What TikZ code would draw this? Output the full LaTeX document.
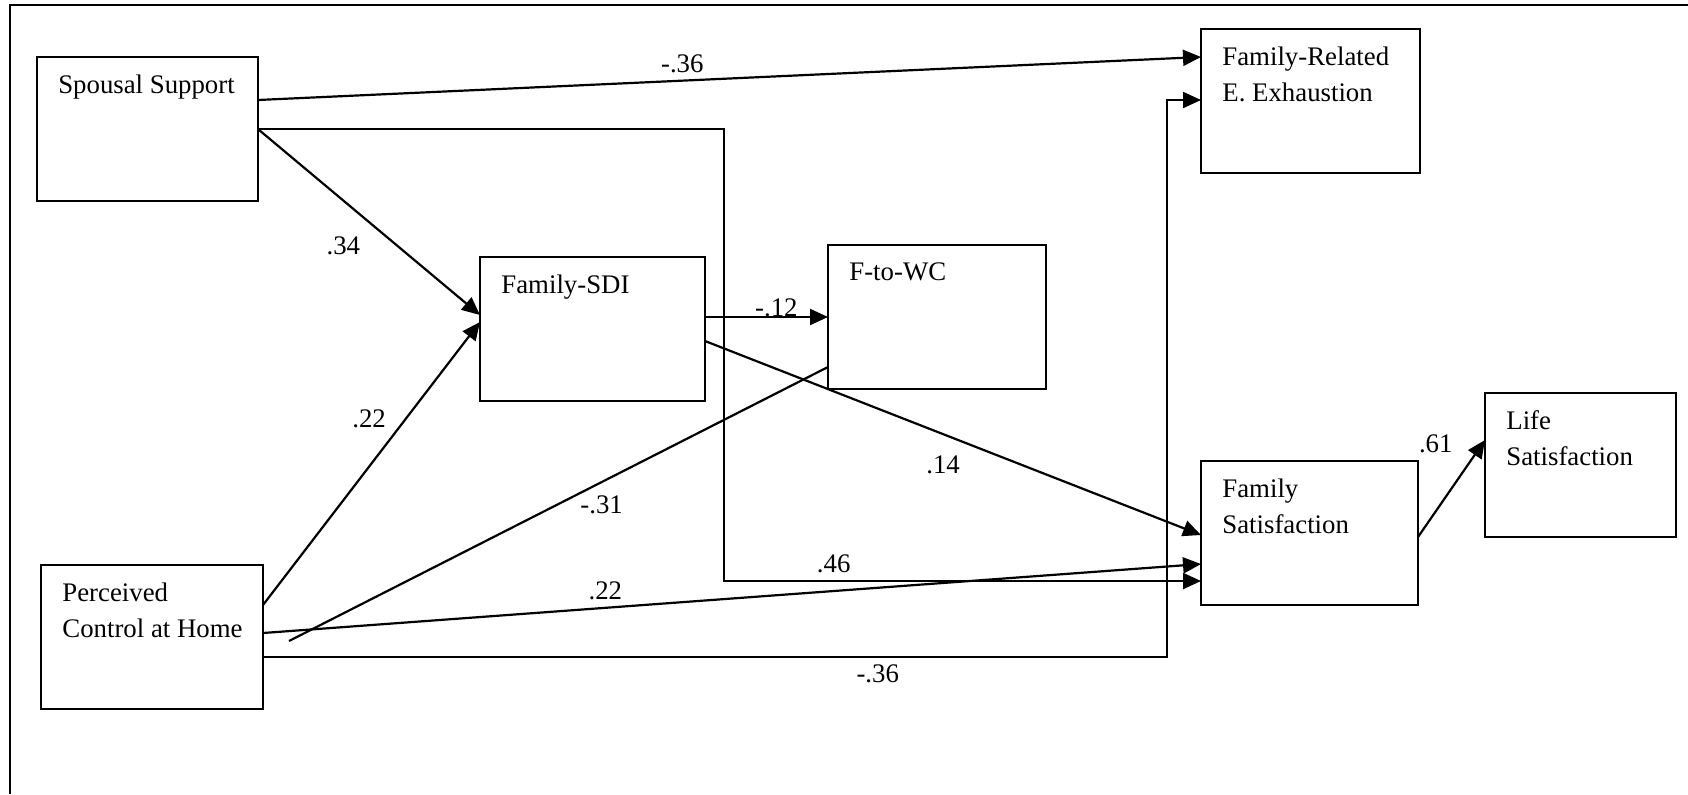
\documentclass[tikz,border=0pt]{standalone}
\usepackage{fontspec}
\setmainfont{Liberation Serif}
\usepackage{tikz}
\usetikzlibrary{arrows.meta}
\tikzstyle{factor}=[rectangle,draw=black,line width=0.9pt,minimum height=72pt,inner sep=0pt,outer sep=0pt]
\tikzstyle{factortext}=[anchor=north west,inner sep=0pt,align=left,xshift=10.5pt,yshift=-8.5pt,font=\fontsize{13.4}{18}\selectfont]
\tikzstyle{effect}=[-{Triangle[length=9pt,width=8pt]},line width=1.1pt]
\tikzstyle{weight} = [font=\fontsize{13.4}{15}\selectfont]

\begin{document}
\begin{tikzpicture}[x=0.5pt,y=-0.5pt]
\useasboundingbox (0,0) rectangle (1688,794);

%frame
\draw[line width=0.9pt] (10,794) -- (10,5) -- (1688,5);

%factors
    \foreach \pos/\name/\w/\txt in {{(147.4,129)/ss/110.5pt/Spousal Support}, {(1310.5,101)/fre/109.5pt/{Family-Related\\E. Exhaustion}},
        {(592.5,329)/sdi/112.5pt/Family-SDI}, {(937,317)/fwc/109pt/F-to-WC}, {(152,637)/pch/111pt/{Perceived\\Control at Home}},
        {(1309.5,533)/fs/108.5pt/{Family\\Satisfaction}}, {(1580.5,465)/ls/95.5pt/{Life\\Satisfaction}}}
        \node[factor,minimum width=\w,label={[factortext]north west:\txt}] (\name) at \pos {};

%ends on the box sides
\coordinate (ssa) at ([shift={(0,43)}]ss.north east);
\coordinate (frea) at ([shift={(0,28)}]fre.north west);
\coordinate (freb) at ([shift={(0,71)}]fre.north west);
\coordinate (sdia) at ([shift={(0,58)}]sdi.north west);
\coordinate (sdib) at ([shift={(0,65)}]sdi.north west);
\coordinate (sdic) at ([shift={(0,60)}]sdi.north east);
\coordinate (sdid) at ([shift={(0,84)}]sdi.north east);
\coordinate (fwcb) at ([shift={(0,122)}]fwc.north west);
\coordinate (pcha) at ([shift={(0,40)}]pch.north east);
\coordinate (pchb) at ([shift={(0,68)}]pch.north east);
\coordinate (pchc) at ([shift={(0,92)}]pch.north east);
\coordinate (fsa) at ([shift={(0,74)}]fs.north west);
\coordinate (fsb) at ([shift={(0,103)}]fs.north west);
\coordinate (fsc) at ([shift={(0,120)}]fs.north west);
\coordinate (fsd) at ([shift={(0,76)}]fs.north east);
\coordinate (lsa) at ([shift={(0,47)}]ls.north west);
\coordinate (hooka) at (724,581);
\coordinate (hookb) at (1167,100);
\coordinate (tail) at (289,641);

%Spousal Support
\draw[effect] (ssa) -- node[weight,above,pos=0.45] {-.36} (frea);
\draw[effect] (ss.east) -- node[weight,left=15pt,pos=0.63] {.34} (sdia);
\draw[effect] (ss.east) -| (hooka) -- node[weight,above,pos=0.23] {.46} (fsc);

%Perceived Control at Home
\draw[effect] (pcha) -- node[weight,left=6pt,pos=0.657] {.22} (sdib);
\draw[effect] (pchb) -- node[weight,above,pos=0.365] {.22} (fsb);
\draw[effect] (pchc) -| node[weight,below,pos=0.34] {-.36} (hookb) -- (freb);
\draw[line width=1.1pt] (tail) -- node[weight,below=3pt,pos=0.58] {-.31} (fwcb);

%Family-SDI
\draw[effect] (sdic) -- node[weight,above=-4pt,pos=0.58] {-.12} (fwc.west);
\draw[effect] (sdid) -- node[weight,below=7pt,pos=0.48] {.14} (fsa);

%Family Satisfaction
\draw[effect] (fsd) -- node[weight,left=9pt,yshift=3pt,pos=0.9] {.61} (lsa);

\end{tikzpicture}
\end{document}
